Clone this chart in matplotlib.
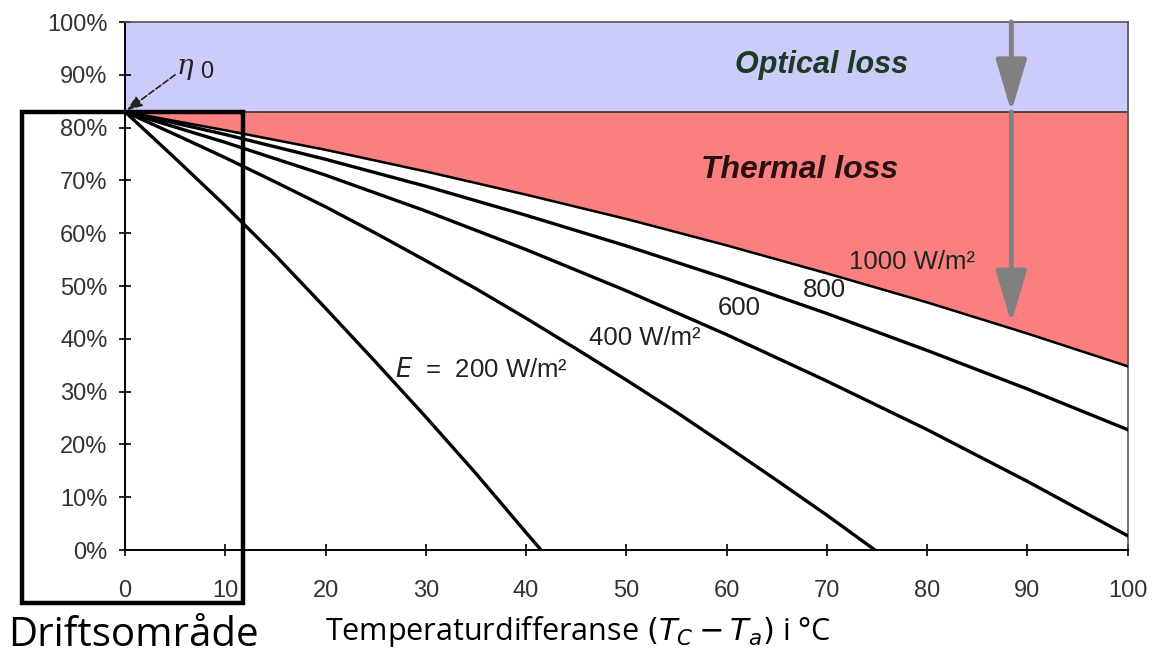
import numpy as np
import matplotlib.pyplot as plt
from matplotlib.patches import Rectangle

# Temperaturdifferanse (x) og virkningsgrad i % for hver innstråling
dT = [0, 10, 20, 30, 40, 50, 60, 70, 80, 90, 100]
eta_1000 = [83.0, 79.5, 75.8, 71.7, 67.3, 62.7, 57.7, 52.4, 46.9, 41.0, 34.8]
eta_800 = [83.0, 78.7, 74.0, 68.9, 63.4, 57.6, 51.4, 44.8, 37.8, 30.5, 22.8]
eta_600 = [83.0, 77.2, 71.0, 64.2, 56.9, 49.1, 40.8, 32.0, 22.8, 13.0, 2.7]
dT_400 = [0, 5, 10, 15, 20, 25, 30, 35, 40, 45, 50, 55, 60, 65, 70, 74.8]
eta_400 = [83.0, 78.7, 74.3, 69.7, 65.0, 60.0, 54.8, 49.5, 43.9, 38.1, 32.2,
           26.1, 19.7, 13.2, 6.6, 0.0]
dT_200 = [0, 5, 10, 15, 20, 25, 30, 35, 40, 41.5]
eta_200 = [83.0, 74.2, 65.2, 55.8, 45.8, 35.6, 25.2, 14.5, 3.3, 0.0]
eta0 = 83.0

xticks = [0, 10, 20, 30, 40, 50, 60, 70, 80, 90, 100]
yticks = [0, 10, 20, 30, 40, 50, 60, 70, 80, 90, 100]

plt.rcParams['font.family'] = ['Liberation Sans', 'DejaVu Sans']

fig = plt.figure(figsize=(11.53, 6.59), dpi=100)
ax = fig.add_axes([0.1084, 0.1654, 0.8696, 0.8012])

# Optisk tap (blått) og termisk tap (rødt)
ax.fill_between([0, 100], eta0, 100, color='#ccccfa', zorder=0)
ax.fill_between(dT, eta_1000, eta0, color='#fa8080', zorder=0)
ax.axhline(eta0, color='#333333', lw=1.2, zorder=1)

ax.plot(dT, eta_1000, color='black', lw=1.8, zorder=3)
ax.plot(dT, eta_800, color='black', lw=2.4, zorder=3)
ax.plot(dT, eta_600, color='black', lw=2.4, zorder=3)
ax.plot(dT_400, eta_400, color='black', lw=2.4, zorder=3)
ax.plot(dT_200, eta_200, color='black', lw=2.4, zorder=3)

ax.set_xlim(0, 100)
ax.set_ylim(0, 100)
ax.set_xticks(xticks)
ax.set_yticks(yticks)
ax.set_xticklabels([str(t) for t in xticks], fontsize=17, color='#333333')
ax.set_yticklabels([f'{t}%' for t in yticks], fontsize=17, color='#333333')
ax.tick_params(direction='inout', length=9, width=1.2, pad=8)
ax.tick_params(axis='x', pad=17)
for s in ['left', 'bottom']:
    ax.spines[s].set_linewidth(1.4)
for s in ['top', 'right']:
    ax.spines[s].set_color('#555555')
    ax.spines[s].set_linewidth(1.2)

# Grå piler
ax.annotate('', xy=(88.4, eta0), xytext=(88.4, 100),
            arrowprops=dict(arrowstyle='-|>,head_width=0.95,head_length=3.2',
                            color='#808080', lw=3.5, shrinkA=0, shrinkB=0), zorder=4)
ax.annotate('', xy=(88.4, 43.0), xytext=(88.4, eta0),
            arrowprops=dict(arrowstyle='-|>,head_width=0.95,head_length=3.2',
                            color='#808080', lw=3.5, shrinkA=0, shrinkB=0), zorder=4)

ax.text(69.5, 91.8, 'Optical loss', fontsize=22, fontweight='bold', style='italic',
        color='#1c3a24', ha='center', va='center')
ax.text(67.3, 72.0, 'Thermal loss', fontsize=23, fontweight='bold', style='italic',
        color='#2a1010', ha='center', va='center')

ax.text(78.5, 54.5, '1000 W/m²', fontsize=18.5, color='#222222', ha='center', va='center')
ax.text(69.8, 49.2, '800', fontsize=18.5, color='#222222', ha='center', va='center')
ax.text(61.3, 45.8, '600', fontsize=18.5, color='#222222', ha='center', va='center')
ax.text(51.8, 40.2, '400 W/m²', fontsize=18.5, color='#222222', ha='center', va='center')
ax.text(35.6, 34.1, '$E$  =  200 W/m²', fontsize=18.5, color='#222222',
        ha='center', va='center')

# eta0-merke med stiplet pil
ax.text(6.0, 91.6, 'η', fontsize=20, family='DejaVu Serif', style='italic',
        color='#222222', ha='center', va='center')
ax.text(8.1, 90.6, '0', fontsize=17, color='#222222', ha='center', va='center')
ax.annotate('', xy=(0.2, eta0 + 0.3), xytext=(5.0, 90.0),
            arrowprops=dict(arrowstyle='-|>,head_width=0.35,head_length=0.9',
                            color='#222222', lw=1.2, linestyle='--',
                            shrinkA=0, shrinkB=0))

# Driftsområde-boks
fig.patches.append(Rectangle((0.019, 0.085), 0.1918, 0.745, transform=fig.transFigure,
                             fill=False, edgecolor='black', lw=3.2, zorder=10))
fig.text(0.007, 0.036, 'Driftsområde', fontsize=29, family=['Open Sans', 'DejaVu Sans'],
         ha='left', va='center')
fig.text(0.501, 0.041, r'Temperaturdifferanse $(T_C - T_a)$ i °C', fontsize=22,
         family=['Open Sans', 'DejaVu Sans'], ha='center', va='center')

fig.savefig('out.png', dpi=100)
